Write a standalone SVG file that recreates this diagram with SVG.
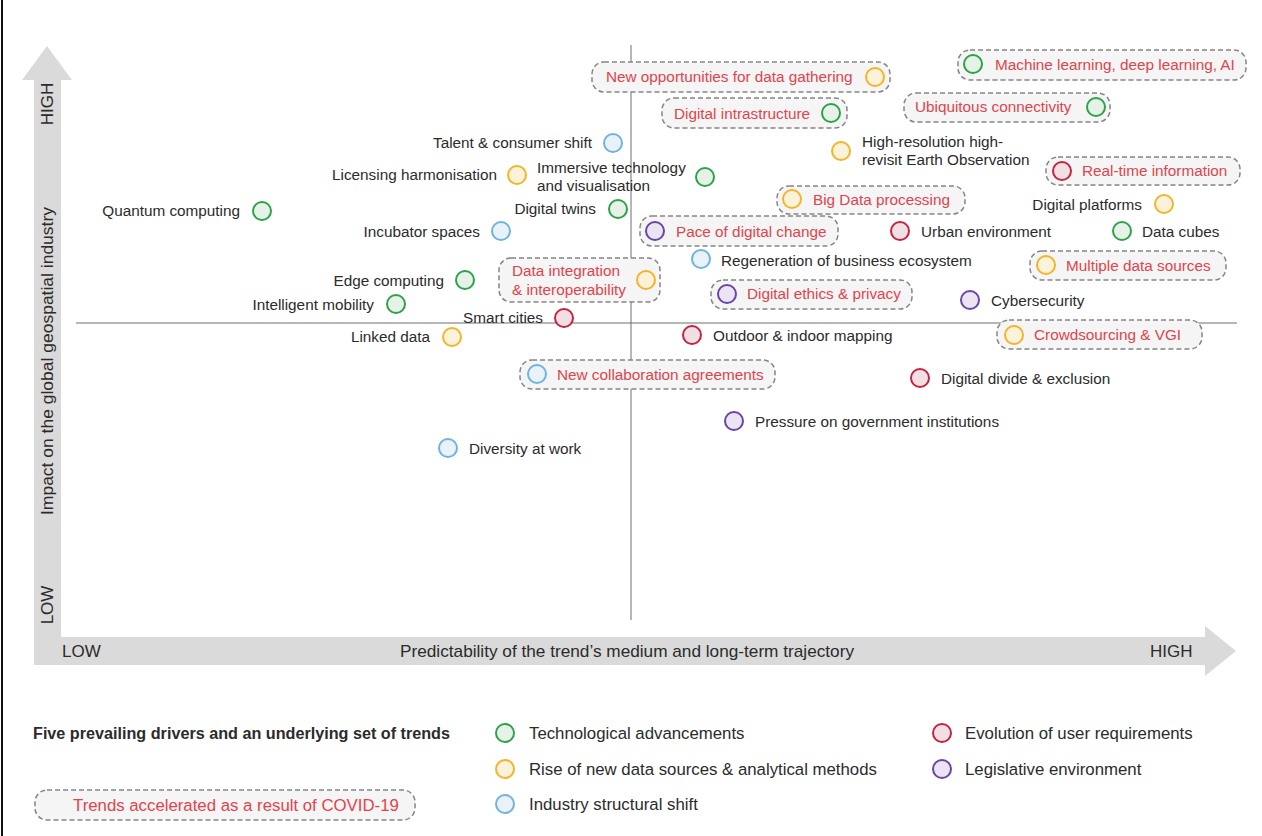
<svg xmlns="http://www.w3.org/2000/svg" width="1262" height="836" viewBox="0 0 1262 836">
  <style>
    text { font-family: "Liberation Sans", Arial, Helvetica, sans-serif; font-size: 15.3px; fill: #2b2b2b; }
    .red { fill: #e0444c; }
    .axis { font-size: 17px; fill: #2b2b2b; }
    .leg { font-size: 16.8px; }
    .box { fill: #f5f5f5; stroke: #858585; stroke-width: 1.5; stroke-dasharray: 5 3; }
    .dot { stroke-width: 2; }
    .tech { stroke: #2ea24a; fill: #e6f2e8; }
    .data { stroke: #f4b42a; fill: #fbf2da; }
    .ind  { stroke: #72b3dd; fill: #e9f2f9; }
    .user { stroke: #c42440; fill: #f2dfe3; }
    .law  { stroke: #6b44a6; fill: #ebe5f3; }
    .band { fill: #dadada; }
    .quad { stroke: #6e6e6e; stroke-width: 1; }
  </style>

  <rect x="0" y="0" width="1262" height="836" fill="#ffffff"/>
  <line x1="2" y1="0" x2="2" y2="836" stroke="#111" stroke-width="2"/>

  <!-- axes and quadrant lines -->
  <g id="axes">
    <path class="band" d="M34 665 L34 80 L22 80 L47 46 L72 80 L61 80 L61 637 L1205 637 L1205 626 L1236 651 L1205 676 L1205 665 Z"/>
    <line class="quad" x1="631" y1="45" x2="631" y2="620"/>
    <line class="quad" x1="76" y1="323" x2="1237" y2="323"/>
    <text class="axis" transform="translate(53 104) rotate(-90)" text-anchor="middle">HIGH</text>
    <text class="axis" transform="translate(53 605) rotate(-90)" text-anchor="middle">LOW</text>
    <text class="axis" transform="translate(53 361) rotate(-90)" text-anchor="middle" textLength="308" lengthAdjust="spacingAndGlyphs">Impact on the global geospatial industry</text>
    <text class="axis" x="62" y="657">LOW</text>
    <text class="axis" x="400" y="657" textLength="454" lengthAdjust="spacingAndGlyphs">Predictability of the trend’s medium and long-term trajectory</text>
    <text class="axis" x="1150" y="657">HIGH</text>
  </g>

  <!-- trends -->
  <g id="new-opportunities">
    <rect class="box" x="592" y="62" width="298" height="30" rx="12"/>
    <text class="red" x="606" y="82">New opportunities for data gathering</text>
    <circle class="dot data" cx="875" cy="77" r="9"/>
  </g>
  <g id="machine-learning">
    <rect class="box" x="958" y="50" width="288" height="30" rx="12"/>
    <circle class="dot tech" cx="973" cy="64" r="9"/>
    <text class="red" x="995" y="70">Machine learning, deep learning, AI</text>
  </g>
  <g id="digital-infrastructure">
    <rect class="box" x="662" y="98" width="185" height="30" rx="12"/>
    <text class="red" x="674" y="119">Digital intrastructure</text>
    <circle class="dot tech" cx="831" cy="113" r="9"/>
  </g>
  <g id="ubiquitous-connectivity">
    <rect class="box" x="904" y="93" width="206" height="29" rx="12"/>
    <text class="red" x="915" y="112">Ubiquitous connectivity</text>
    <circle class="dot tech" cx="1096" cy="107" r="9"/>
  </g>
  <g id="talent-shift">
    <text x="592" y="148" text-anchor="end">Talent &amp; consumer shift</text>
    <circle class="dot ind" cx="613" cy="143" r="9"/>
  </g>
  <g id="earth-observation">
    <circle class="dot data" cx="841" cy="151" r="9"/>
    <text x="862" y="147">High-resolution high-</text>
    <text x="862" y="165">revisit Earth Observation</text>
  </g>
  <g id="real-time-information">
    <rect class="box" x="1046" y="157" width="194" height="28" rx="12"/>
    <circle class="dot user" cx="1062" cy="171" r="9"/>
    <text class="red" x="1082" y="176">Real-time information</text>
  </g>
  <g id="licensing-harmonisation">
    <text x="497" y="180" text-anchor="end">Licensing harmonisation</text>
    <circle class="dot data" cx="517" cy="175" r="9"/>
  </g>
  <g id="immersive-technology">
    <text x="537" y="173">Immersive technology</text>
    <text x="537" y="191">and visualisation</text>
    <circle class="dot tech" cx="705" cy="177" r="9"/>
  </g>
  <g id="quantum-computing">
    <text x="240" y="216" text-anchor="end">Quantum computing</text>
    <circle class="dot tech" cx="262" cy="211" r="9"/>
  </g>
  <g id="big-data-processing">
    <rect class="box" x="777" y="186" width="188" height="28" rx="12"/>
    <circle class="dot data" cx="792" cy="199" r="9"/>
    <text class="red" x="813" y="205">Big Data processing</text>
  </g>
  <g id="digital-platforms">
    <text x="1142" y="210" text-anchor="end">Digital platforms</text>
    <circle class="dot data" cx="1164" cy="204" r="9"/>
  </g>
  <g id="digital-twins">
    <text x="596" y="214" text-anchor="end">Digital twins</text>
    <circle class="dot tech" cx="618" cy="209" r="9"/>
  </g>
  <g id="incubator-spaces">
    <text x="480" y="237" text-anchor="end">Incubator spaces</text>
    <circle class="dot ind" cx="501" cy="231" r="9"/>
  </g>
  <g id="pace-of-digital-change">
    <rect class="box" x="640" y="216" width="198" height="30" rx="12"/>
    <circle class="dot law" cx="655" cy="231" r="9"/>
    <text class="red" x="676" y="237">Pace of digital change</text>
  </g>
  <g id="urban-environment">
    <circle class="dot user" cx="900" cy="231" r="9"/>
    <text x="921" y="237">Urban environment</text>
  </g>
  <g id="data-cubes">
    <circle class="dot tech" cx="1122" cy="231" r="9"/>
    <text x="1142" y="237">Data cubes</text>
  </g>
  <g id="business-ecosystem">
    <circle class="dot ind" cx="701" cy="259" r="9"/>
    <text x="721" y="266">Regeneration of business ecosystem</text>
  </g>
  <g id="multiple-data-sources">
    <rect class="box" x="1030" y="251" width="196" height="29" rx="12"/>
    <circle class="dot data" cx="1046" cy="265" r="9"/>
    <text class="red" x="1066" y="271">Multiple data sources</text>
  </g>
  <g id="data-integration">
    <rect class="box" x="499" y="258" width="161" height="44" rx="12"/>
    <text class="red" x="512" y="276">Data integration</text>
    <text class="red" x="512" y="295">&amp; interoperability</text>
    <circle class="dot data" cx="646" cy="280" r="9"/>
  </g>
  <g id="edge-computing">
    <text x="444" y="286" text-anchor="end">Edge computing</text>
    <circle class="dot tech" cx="465" cy="280" r="9"/>
  </g>
  <g id="digital-ethics">
    <rect class="box" x="711" y="280" width="201" height="29" rx="12"/>
    <circle class="dot law" cx="727" cy="294" r="9"/>
    <text class="red" x="747" y="299">Digital ethics &amp; privacy</text>
  </g>
  <g id="cybersecurity">
    <circle class="dot law" cx="970" cy="300" r="9"/>
    <text x="991" y="306">Cybersecurity</text>
  </g>
  <g id="intelligent-mobility">
    <text x="374" y="310" text-anchor="end">Intelligent mobility</text>
    <circle class="dot tech" cx="396" cy="304" r="9"/>
  </g>
  <g id="smart-cities">
    <text x="543" y="323" text-anchor="end">Smart cities</text>
    <circle class="dot user" cx="564" cy="318" r="9"/>
  </g>
  <g id="linked-data">
    <text x="430" y="342" text-anchor="end">Linked data</text>
    <circle class="dot data" cx="452" cy="337" r="9"/>
  </g>
  <g id="outdoor-indoor-mapping">
    <circle class="dot user" cx="692" cy="335" r="9"/>
    <text x="713" y="341">Outdoor &amp; indoor mapping</text>
  </g>
  <g id="crowdsourcing">
    <rect class="box" x="997" y="320" width="205" height="29" rx="12"/>
    <circle class="dot data" cx="1014" cy="335" r="9"/>
    <text class="red" x="1034" y="340">Crowdsourcing &amp; VGI</text>
  </g>
  <g id="collaboration-agreements">
    <rect class="box" x="520" y="360" width="255" height="29" rx="12"/>
    <circle class="dot ind" cx="537" cy="374" r="9"/>
    <text class="red" x="557" y="380">New collaboration agreements</text>
  </g>
  <g id="digital-divide">
    <circle class="dot user" cx="920" cy="378" r="9"/>
    <text x="941" y="384">Digital divide &amp; exclusion</text>
  </g>
  <g id="government-pressure">
    <circle class="dot law" cx="734" cy="421" r="9"/>
    <text x="755" y="427">Pressure on government institutions</text>
  </g>
  <g id="diversity-at-work">
    <circle class="dot ind" cx="448" cy="448" r="9"/>
    <text x="469" y="454">Diversity at work</text>
  </g>

  <!-- legend -->
  <g id="legend">
    <text class="leg" x="33" y="739" font-weight="bold" textLength="417" lengthAdjust="spacingAndGlyphs">Five prevailing drivers and an underlying set of trends</text>
    <circle class="dot tech" cx="505" cy="733" r="9"/>
    <text class="leg" x="529" y="739">Technological advancements</text>
    <circle class="dot data" cx="505" cy="769" r="9"/>
    <text class="leg" x="529" y="775">Rise of new data sources &amp; analytical methods</text>
    <circle class="dot ind" cx="505" cy="804" r="9"/>
    <text class="leg" x="529" y="810">Industry structural shift</text>
    <circle class="dot user" cx="942" cy="733" r="9"/>
    <text class="leg" x="965" y="739">Evolution of user requirements</text>
    <circle class="dot law" cx="942" cy="769" r="9"/>
    <text class="leg" x="965" y="775">Legislative environment</text>
    <rect class="box" x="35" y="790" width="380" height="30" rx="12"/>
    <text class="red leg" x="73" y="811">Trends accelerated as a result of COVID-19</text>
  </g>
</svg>
